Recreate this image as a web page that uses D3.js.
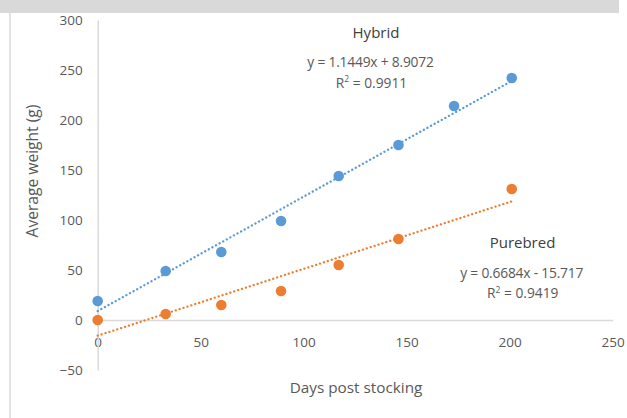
<!DOCTYPE html>
<html>
<head>
<meta charset="utf-8">
<script src="https://cdn.jsdelivr.net/npm/d3@7/dist/d3.min.js"></script>
<style>
  html, body { margin: 0; padding: 0; background: #fff; }
  svg { display: block; }
  text { font-family: "Open Sans", "Liberation Sans", sans-serif; }
</style>
</head>
<body>
<svg id="chart" width="627" height="418"></svg>
<script>
// Days after stocking at each weighing
const hybridDays = [0, 33, 60, 89, 117, 146, 173, 201];
const hybridWeight = [19, 49, 68, 99, 144, 175, 214, 242];
const purebredDays = [0, 33, 60, 89, 117, 146, 201];
const purebredWeight = [0, 6, 15, 29, 55, 81, 131];

// Linear trend fits (slope, intercept, R²)
const hybridFit = { slope: 1.1449, intercept: 8.9072, r2: "0.9911" };
const purebredFit = { slope: 0.6684, intercept: -15.717, r2: "0.9419" };

const xTicks = [0, 50, 100, 150, 200, 250];
const yTicks = [-50, 0, 50, 100, 150, 200, 250, 300];

const svg = d3.select("#chart");

// Frame: grey strip along the top and a thin rule on the left
svg.append("rect").attr("x", 0).attr("y", 0).attr("width", 619).attr("height", 13).attr("fill", "#d9d9d9");
svg.append("line").attr("x1", 10).attr("x2", 10).attr("y1", 13).attr("y2", 418)
  .attr("stroke", "#d9d9d9").attr("stroke-width", 1.5);

const x = d3.scaleLinear().domain([0, 250]).range([97.7, 612.7]);
const y = d3.scaleLinear().domain([-50, 300]).range([370, 20]);

const axisColor = "#d9d9d9";
const labelColor = "#595959";

// X axis drawn through y = 0
const xAxis = svg.append("g").attr("transform", `translate(0,${y(0)})`)
  .call(d3.axisBottom(x).tickValues(xTicks).tickSize(0).tickPadding(17).tickFormat(d3.format("d")));
xAxis.select(".domain").attr("stroke", axisColor).attr("stroke-width", 1.5);
xAxis.selectAll("text").attr("fill", labelColor).attr("font-size", "13.5px");

// Y axis at x = 0
const yAxis = svg.append("g").attr("transform", `translate(${x(0)},0)`)
  .call(d3.axisLeft(y).tickValues(yTicks).tickSize(0).tickPadding(15).tickFormat(d3.format("d")));
yAxis.select(".domain").attr("stroke", axisColor).attr("stroke-width", 1.5);
yAxis.selectAll("text").attr("fill", labelColor).attr("font-size", "13.5px");

// Axis titles
svg.append("text").attr("x", 356).attr("y", 393).attr("text-anchor", "middle")
  .attr("fill", labelColor).attr("font-size", "15.3px").text("Days post stocking");
svg.append("text").attr("transform", "translate(38,171) rotate(-90)").attr("text-anchor", "middle")
  .attr("fill", labelColor).attr("font-size", "15.6px").text("Average weight (g)");

const series = [
  { days: hybridDays, weight: hybridWeight, fit: hybridFit, color: "#5b9bd5" },
  { days: purebredDays, weight: purebredWeight, fit: purebredFit, color: "#ed7d31" }
];

series.forEach(s => {
  const x0 = d3.min(s.days), x1 = d3.max(s.days);
  svg.append("line")
    .attr("x1", x(x0)).attr("y1", y(s.fit.slope * x0 + s.fit.intercept))
    .attr("x2", x(x1)).attr("y2", y(s.fit.slope * x1 + s.fit.intercept))
    .attr("stroke", s.color).attr("stroke-width", 2.3)
    .attr("stroke-linecap", "round").attr("stroke-dasharray", "0.1 4");
});

series.forEach(s => {
  svg.append("g").selectAll("circle")
    .data(s.days.map((d, i) => [d, s.weight[i]]))
    .join("circle")
    .attr("cx", d => x(d[0])).attr("cy", d => y(d[1])).attr("r", 5.3)
    .attr("fill", s.color);
});

// Trendline annotations
function fmtEq(f) {
  const sign = f.intercept < 0 ? " - " : " + ";
  return `y = ${f.slope}x${sign}${Math.abs(f.intercept)}`;
}
function annotate(nameX, eqX, top, name, f) {
  svg.append("text").attr("x", nameX).attr("y", top).attr("text-anchor", "middle")
    .attr("fill", "#404040").attr("font-size", "15px").text(name);
  svg.append("text").attr("x", eqX).attr("y", top + 29.5).attr("text-anchor", "middle")
    .attr("fill", labelColor).attr("font-size", "13.8px").attr("letter-spacing", "-0.2px").text(fmtEq(f));
  const r = svg.append("text").attr("x", eqX + 1).attr("y", top + 50).attr("text-anchor", "middle")
    .attr("fill", labelColor).attr("font-size", "13.8px");
  r.append("tspan").text("R");
  r.append("tspan").attr("font-size", "8.5px").attr("dy", -5.5).text("2");
  r.append("tspan").attr("dy", 5.5).text(` = ${f.r2}`);
}
annotate(376, 370.5, 37.5, "Hybrid", hybridFit);
annotate(522.5, 521.7, 248, "Purebred", purebredFit);
</script>
</body>
</html>
